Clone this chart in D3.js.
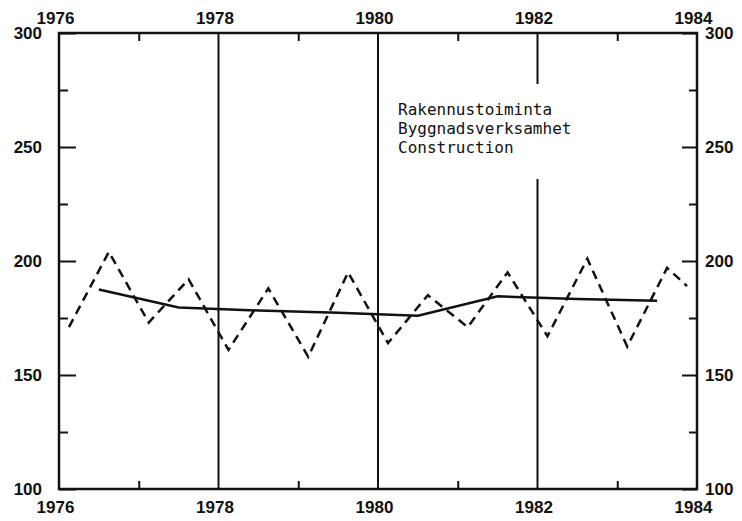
<!DOCTYPE html>
<html>
<head>
<meta charset="utf-8">
<script src="https://cdn.jsdelivr.net/npm/d3@7"></script>
<style>
  body { margin: 0; background: #fff; }
  svg { display: block; }
</style>
</head>
<body>
<svg id="chart" width="742" height="521"></svg>
<script>
// decimal year of each point and index value (quarterly turning points)
const quarterYears = [1976.125, 1976.625, 1977.125, 1977.625, 1978.125, 1978.625, 1979.125, 1979.625,
  1980.125, 1980.625, 1981.125, 1981.625, 1982.125, 1982.625, 1983.125, 1983.625, 1983.875];
const quarterValues = [171, 204, 173, 192, 161, 188, 158, 195, 164, 185, 171, 195, 167, 201, 162.5, 197, 189];

// yearly trend, plotted at mid year
const trendYears = [1976.5, 1977.5, 1978.5, 1979.5, 1980.5, 1981.5, 1982.5, 1983.5];
const trendValues = [187.5, 179.6, 178.3, 177.3, 176, 184.5, 183.3, 182.6];

const yearLabels = [1976, 1978, 1980, 1982, 1984];
const yearMinor = [1977, 1979, 1981, 1983];
const gridYears = [1978, 1980, 1982];
const valueLabels = [100, 150, 200, 250, 300];
const valueMinor = [125, 175, 225, 275];
const titleLines = ["Rakennustoiminta", "Byggnadsverksamhet", "Construction"];

const svg = d3.select("#chart");
const plotLeft = 59, plotRight = 697, plotTop = 33, plotBottom = 489;

const x = d3.scaleLinear().domain([1976, 1984]).range([plotLeft, plotRight]);
const y = d3.scaleLinear().domain([100, 300]).range([plotBottom, plotTop]);

const labelFont = "'Liberation Sans', Arial, sans-serif";

// vertical grid lines
svg.append("g")
  .selectAll("line")
  .data(gridYears)
  .enter()
  .append("line")
  .attr("x1", (d) => x(d))
  .attr("x2", (d) => x(d))
  .attr("y1", plotTop)
  .attr("y2", plotBottom)
  .attr("stroke", "#111")
  .attr("stroke-width", 2);

// annotation, the grid line is broken behind it
svg.append("rect")
  .attr("x", x(1980.25))
  .attr("y", 84)
  .attr("width", 190)
  .attr("height", 95)
  .attr("fill", "#fff");

svg.append("g")
  .selectAll("text")
  .data(titleLines)
  .enter()
  .append("text")
  .attr("x", 398)
  .attr("y", (d, i) => 115 + i * 19)
  .style("font-family", "'DejaVu Sans Mono', monospace")
  .style("font-size", "16px")
  .attr("fill", "#111")
  .text((d) => d);

// axes: minor ticks
const minorAxis = (axis, g) => {
  g.call(axis).call((s) => s.select(".domain").remove());
  g.selectAll(".tick line").attr("stroke", "#111").attr("stroke-width", 2);
  g.selectAll(".tick text").remove();
};

minorAxis(d3.axisBottom(x).tickValues(yearMinor).tickSize(-8),
  svg.append("g").attr("transform", `translate(0,${plotBottom})`));
minorAxis(d3.axisTop(x).tickValues(yearMinor).tickSize(-8),
  svg.append("g").attr("transform", `translate(0,${plotTop})`));
minorAxis(d3.axisLeft(y).tickValues(valueMinor).tickSize(-9),
  svg.append("g").attr("transform", `translate(${plotLeft},0)`));
minorAxis(d3.axisRight(y).tickValues(valueMinor).tickSize(-8),
  svg.append("g").attr("transform", `translate(${plotRight},0)`));

// axes: labelled ticks
const labelAxis = (axis, g) => {
  g.call(axis).call((s) => s.select(".domain").remove());
  g.selectAll(".tick line").attr("stroke", "#111").attr("stroke-width", 2);
  g.selectAll(".tick text")
    .attr("fill", "#111")
    .style("font-family", labelFont)
    .style("font-weight", "bold")
    .style("font-size", "17px");
};

labelAxis(d3.axisBottom(x).tickValues(yearLabels).tickSize(0).tickPadding(12)
  .tickFormat(d3.format("d")),
  svg.append("g").attr("transform", `translate(-4,${plotBottom})`));
labelAxis(d3.axisTop(x).tickValues(yearLabels).tickSize(0).tickPadding(9)
  .tickFormat(d3.format("d")),
  svg.append("g").attr("transform", `translate(-4,${plotTop})`));

const leftAxis = svg.append("g").attr("transform", `translate(${plotLeft},0)`);
labelAxis(d3.axisLeft(y).tickValues(valueLabels).tickSize(-17).tickPadding(0), leftAxis);
leftAxis.selectAll(".tick text").attr("x", -17).attr("dy", "0.3em");

const rightAxis = svg.append("g").attr("transform", `translate(${plotRight},0)`);
labelAxis(d3.axisRight(y).tickValues(valueLabels).tickSize(-15).tickPadding(0), rightAxis);
rightAxis.selectAll(".tick text").attr("x", 8).attr("dy", "0.3em");

// frame
svg.append("rect")
  .attr("x", plotLeft)
  .attr("y", plotTop)
  .attr("width", plotRight - plotLeft)
  .attr("height", plotBottom - plotTop)
  .attr("fill", "none")
  .attr("stroke", "#111")
  .attr("stroke-width", 2.5);

// series
const quarterly = quarterYears.map((d, i) => [d, quarterValues[i]]);
const trend = trendYears.map((d, i) => [d, trendValues[i]]);

const line = d3.line()
  .x((d) => x(d[0]))
  .y((d) => y(d[1]));

svg.append("path")
  .datum(quarterly)
  .attr("d", line)
  .attr("fill", "none")
  .attr("stroke", "#111")
  .attr("stroke-width", 2.5)
  .attr("stroke-dasharray", "9,6");

svg.append("path")
  .datum(trend)
  .attr("d", line)
  .attr("fill", "none")
  .attr("stroke", "#111")
  .attr("stroke-width", 2.5);
</script>
</body>
</html>
